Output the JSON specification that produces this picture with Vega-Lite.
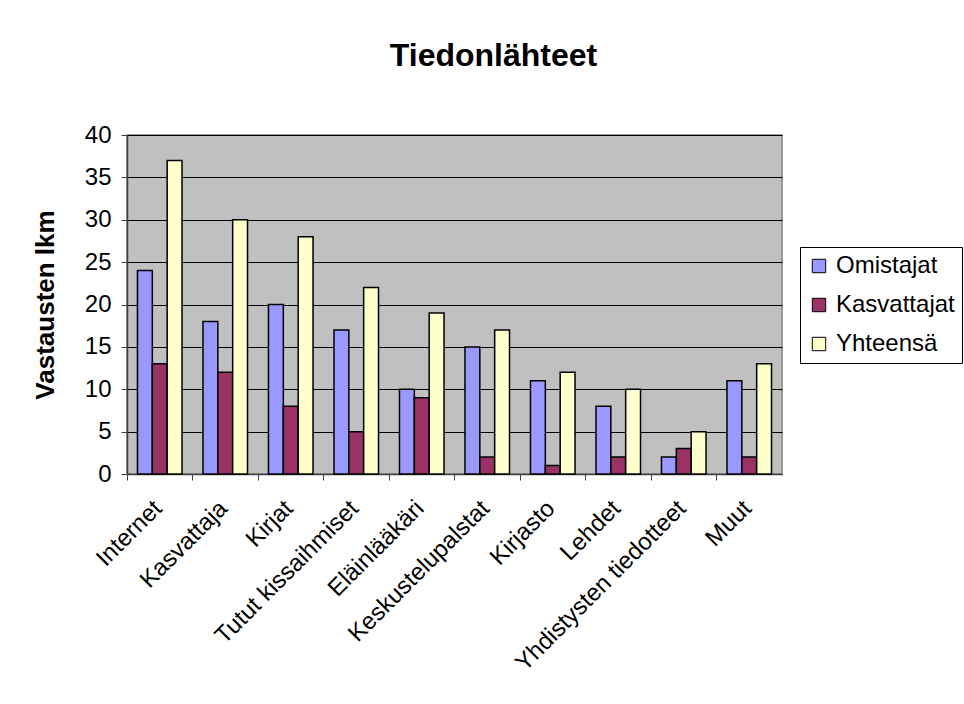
{
  "$schema": "https://vega.github.io/schema/vega-lite/v6.json",
  "autosize": {"type": "none"},
  "width": 655,
  "height": 339,
  "padding": {"left": 127, "top": 135, "right": 182, "bottom": 230},
  "background": "white",
  "title": {"text": "Tiedonlähteet", "fontSize": 32, "font": "Liberation Sans", "fontWeight": "bold", "color": "black", "offset": 50, "dx": 39, "anchor": "middle"},
  "data": {"values": [
    {"k": "Internet", "s": "Omistajat", "v": 24}, {"k": "Internet", "s": "Kasvattajat", "v": 13}, {"k": "Internet", "s": "Yhteensä", "v": 37},
    {"k": "Kasvattaja", "s": "Omistajat", "v": 18}, {"k": "Kasvattaja", "s": "Kasvattajat", "v": 12}, {"k": "Kasvattaja", "s": "Yhteensä", "v": 30},
    {"k": "Kirjat", "s": "Omistajat", "v": 20}, {"k": "Kirjat", "s": "Kasvattajat", "v": 8}, {"k": "Kirjat", "s": "Yhteensä", "v": 28},
    {"k": "Tutut kissaihmiset", "s": "Omistajat", "v": 17}, {"k": "Tutut kissaihmiset", "s": "Kasvattajat", "v": 5}, {"k": "Tutut kissaihmiset", "s": "Yhteensä", "v": 22},
    {"k": "Eläinlääkäri", "s": "Omistajat", "v": 10}, {"k": "Eläinlääkäri", "s": "Kasvattajat", "v": 9}, {"k": "Eläinlääkäri", "s": "Yhteensä", "v": 19},
    {"k": "Keskustelupalstat", "s": "Omistajat", "v": 15}, {"k": "Keskustelupalstat", "s": "Kasvattajat", "v": 2}, {"k": "Keskustelupalstat", "s": "Yhteensä", "v": 17},
    {"k": "Kirjasto", "s": "Omistajat", "v": 11}, {"k": "Kirjasto", "s": "Kasvattajat", "v": 1}, {"k": "Kirjasto", "s": "Yhteensä", "v": 12},
    {"k": "Lehdet", "s": "Omistajat", "v": 8}, {"k": "Lehdet", "s": "Kasvattajat", "v": 2}, {"k": "Lehdet", "s": "Yhteensä", "v": 10},
    {"k": "Yhdistysten tiedotteet", "s": "Omistajat", "v": 2}, {"k": "Yhdistysten tiedotteet", "s": "Kasvattajat", "v": 3}, {"k": "Yhdistysten tiedotteet", "s": "Yhteensä", "v": 5},
    {"k": "Muut", "s": "Omistajat", "v": 11}, {"k": "Muut", "s": "Kasvattajat", "v": 2}, {"k": "Muut", "s": "Yhteensä", "v": 13}
  ]},
  "mark": {"type": "bar", "stroke": "black", "strokeWidth": 1.5},
  "encoding": {
    "x": {"field": "k", "type": "nominal", "sort": null,
      "scale": {"paddingInner": 0.32, "paddingOuter": 0.16},
      "axis": {"title": null, "labelAngle": -45, "labelAlign": "right", "labelBaseline": "top", "labelFontSize": 24, "labelFont": "Liberation Sans", "labelColor": "black", "labelPadding": 16, "labelOffset": -10, "labelLimit": 0, "labelOverlap": false, "bandPosition": -0.235, "tickSize": 6, "tickColor": "#404040", "domainColor": "#404040"}},
    "xOffset": {"field": "s", "type": "nominal", "sort": ["Omistajat", "Kasvattajat", "Yhteensä"]},
    "y": {"field": "v", "type": "quantitative",
      "scale": {"domain": [0, 40]},
      "axis": {"title": "Vastausten lkm", "titleFontSize": 26, "titleFont": "Liberation Sans", "titleFontWeight": "bold", "titleColor": "black", "titleX": -69, "values": [0, 5, 10, 15, 20, 25, 30, 35, 40], "labelFontSize": 24, "labelFont": "Liberation Sans", "labelColor": "black", "tickSize": 6, "tickColor": "#404040", "domainColor": "#404040", "grid": true, "gridColor": "black", "gridWidth": 1, "labelPadding": 10}},
    "color": {"field": "s", "type": "nominal", "sort": ["Omistajat", "Kasvattajat", "Yhteensä"],
      "scale": {"domain": ["Omistajat", "Kasvattajat", "Yhteensä"], "range": ["#9999FF", "#993366", "#FFFFCC"]},
      "legend": {"title": null, "orient": "none", "legendX": 673, "legendY": 112, "labelFontSize": 24, "labelFont": "Liberation Sans", "labelColor": "black", "symbolType": "square", "symbolSize": 180, "symbolStrokeColor": "black", "symbolStrokeWidth": 1, "rowPadding": 15, "strokeColor": "black", "padding": 7, "labelOffset": 5}}
  },
  "config": {
    "view": {"fill": "#C0C0C0", "stroke": "#808080", "strokeWidth": 1.5},
    "axis": {"domainWidth": 1.5}
  }
}
